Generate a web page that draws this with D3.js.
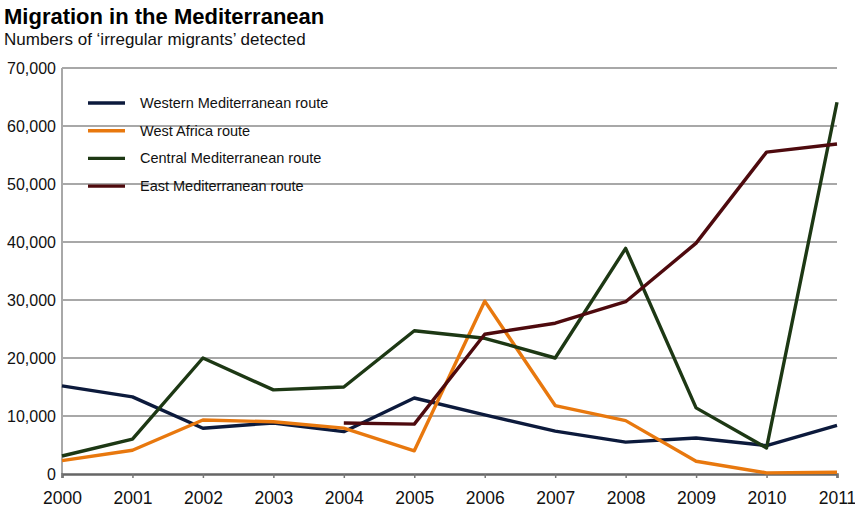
<!DOCTYPE html>
<html lang="en">
  <head>
    <meta charset="utf-8">
    <title>Migration in the Mediterranean</title>
    <style>
      body { margin: 0; background: #fff; }
      svg { font-family: "Liberation Sans", Arial, sans-serif; }
      .grid line { stroke: #a8a8a8; stroke-width: 2px; }
      .tick text { fill: #111; }
      .route { fill: none; stroke-width: 3.4px; stroke-linejoin: round; }
      .legend text { font-size: 14.5px; fill: #111; }
    </style>
    <script src="https://cdn.jsdelivr.net/npm/d3@7/dist/d3.min.js"></script>
  </head>
  <body>
    <script>
      var w = 855, h = 517;

      // data
      var years = [2000, 2001, 2002, 2003, 2004, 2005, 2006, 2007, 2008, 2009, 2010, 2011];
      var western = [15200, 13300, 7900, 8800, 7300, 13100, 10200, 7400, 5500, 6200, 4900, 8400];
      var westAfrica = [2300, 4100, 9300, 9000, 7900, 4000, 29800, 11800, 9200, 2200, 200, 300];
      var central = [3100, 6000, 20000, 14500, 15000, 24700, 23400, 20000, 38900, 11400, 4500, 64100];
      var east = [null, null, null, null, 8800, 8600, 24100, 26000, 29700, 39800, 55500, 56900];
      var yTicks = [0, 10000, 20000, 30000, 40000, 50000, 60000, 70000];

      var series = [
        { name: "Western Mediterranean route", values: western, color: "#0c1a3c" },
        { name: "West Africa route", values: westAfrica, color: "#e8780e" },
        { name: "Central Mediterranean route", values: central, color: "#1d3814" },
        { name: "East Mediterranean route", values: east, color: "#4e0a0e" }
      ];

      var plotL = 62, plotR = 837, plotT = 68, plotB = 474;

      var svg = d3.select("body").append("svg")
        .attr("width", w)
        .attr("height", h);

      var x = d3.scaleLinear().domain([2000, 2011]).range([plotL, plotR]);
      var y = d3.scaleLinear().domain([0, 70000]).range([plotB, plotT]);

      // title
      svg.append("text")
        .attr("x", 4).attr("y", 24)
        .style("font-size", "22px").style("font-weight", "bold")
        .text("Migration in the Mediterranean");
      svg.append("text")
        .attr("x", 4).attr("y", 45)
        .style("font-size", "17px").style("fill", "#111")
        .text("Numbers of \u2018irregular migrants\u2019 detected");

      // gridlines
      svg.append("g")
        .attr("class", "grid")
        .selectAll("line")
        .data(yTicks.filter(function(d) { return d > 0; }))
        .enter().append("line")
        .attr("x1", plotL).attr("x2", plotR)
        .attr("y1", function(d) { return y(d); })
        .attr("y2", function(d) { return y(d); });

      // left frame line
      svg.append("line")
        .attr("x1", plotL).attr("x2", plotL)
        .attr("y1", plotT).attr("y2", plotB)
        .attr("stroke", "#a8a8a8").attr("stroke-width", 2);

      // y axis labels
      var yAxis = svg.append("g")
        .attr("transform", "translate(" + (plotL - 6) + ",0)")
        .call(d3.axisLeft(y).tickValues(yTicks).tickSize(0).tickPadding(0)
          .tickFormat(d3.format(",")));
      yAxis.select(".domain").remove();
      yAxis.selectAll("text").attr("dy", "0.36em").style("font-size", "16px");

      // x axis
      var xAxis = svg.append("g")
        .attr("transform", "translate(0," + plotB + ")")
        .call(d3.axisBottom(x).tickValues(years).tickSize(4).tickPadding(14)
          .tickFormat(d3.format("d")));
      xAxis.select(".domain")
        .attr("stroke", "#666").attr("stroke-width", 2.5);
      xAxis.selectAll(".tick line").attr("stroke", "#777").attr("stroke-width", 1.5);
      xAxis.selectAll("text").style("font-size", "17.5px");

      // lines
      var line = d3.line()
        .defined(function(d) { return d != null; })
        .x(function(d, i) { return x(years[i]); })
        .y(function(d) { return y(d); });

      svg.append("g")
        .selectAll("path")
        .data(series)
        .enter().append("path")
        .attr("class", "route")
        .attr("stroke", function(d) { return d.color; })
        .attr("d", function(d) { return line(d.values); });

      // legend
      var legend = svg.append("g")
        .attr("class", "legend")
        .selectAll("g")
        .data(series)
        .enter().append("g")
        .attr("transform", function(d, i) { return "translate(88," + (103 + i * 27.7) + ")"; });
      legend.append("line")
        .attr("x1", 0).attr("x2", 37)
        .attr("stroke", function(d) { return d.color; })
        .attr("stroke-width", 3.4);
      legend.append("text")
        .attr("x", 52).attr("dy", "0.35em")
        .text(function(d) { return d.name; });
    </script>
  </body>
</html>
